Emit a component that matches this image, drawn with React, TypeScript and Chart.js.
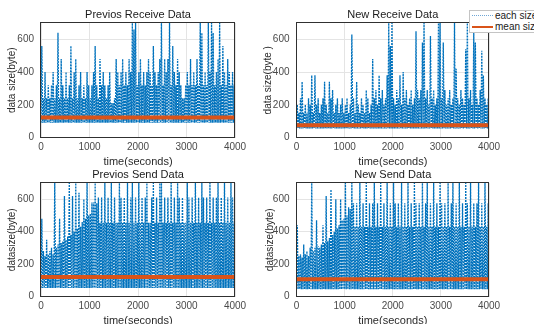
import React, { useEffect, useRef } from 'react';
import { Chart, registerables } from 'chart.js';

Chart.register(...registerables);

// ---------- data ----------
const TITLES = ['Previos Receive Data', 'New Receive Data', 'Previos Send Data', 'New Send Data'];
const Y_TITLES = ['data size(byte)', 'data size(byte )', 'datasize(byte)', 'datasize(byte)'];
const X_TITLE = 'time(seconds)';
const LEGEND_LABELS = ['each size', 'mean size'];

const X_TICKS = [0, 1000, 2000, 3000, 4000];
const Y_TICKS = [0, 200, 400, 600];
const X_MAX = 4000;
const Y_MAX = 700;

const MEANS = [122, 75, 120, 106];
const TROUGHS = [90, 55, 52, 45];

const prevReceivePeaks = [
  560, 240, 400, 240, 320, 240, 320, 400, 240, 320,
  640, 240, 480, 320, 240, 400, 240, 320, 560, 240,
  400, 480, 240, 320, 400, 240, 320, 240, 400, 320,
  240, 320, 400, 560, 320, 240, 480, 320, 400, 320,
  240, 320, 400, 210, 210, 240, 480, 400, 320, 400,
  480, 320, 400, 320, 480, 400, 700, 660, 700, 320,
  400, 480, 320, 400, 320, 400, 480, 400, 320, 560,
  400, 320, 400, 480, 700, 320, 480, 400, 480, 700,
  320, 560, 400, 320, 480, 400, 320, 240, 240, 320,
  400, 320, 480, 320, 400, 320, 480, 320, 700, 640,
  320, 400, 320, 700, 400, 700, 640, 320, 400, 480,
  700, 320, 560, 400, 320, 480, 400, 320, 400, 320,
];

const newReceivePeaks = [
  200, 150, 240, 340, 150, 200, 150, 240, 200, 380,
  150, 380, 200, 240, 150, 200, 240, 340, 200, 150,
  340, 240, 290, 150, 200, 240, 150, 200, 240, 150,
  200, 240, 150, 200, 630, 240, 150, 340, 200, 150,
  240, 200, 150, 290, 240, 150, 200, 480, 240, 290,
  200, 380, 240, 290, 200, 240, 380, 700, 560, 700,
  240, 200, 290, 240, 380, 200, 400, 240, 290, 200,
  240, 290, 200, 240, 650, 290, 240, 290, 580, 700,
  240, 290, 200, 620, 240, 290, 200, 240, 700, 700,
  240, 580, 290, 200, 240, 290, 200, 240, 700, 420,
  240, 200, 290, 240, 200, 540, 700, 240, 290, 200,
  650, 580, 240, 200, 290, 530, 380, 240, 200, 240,
];

const prevSendPeaks = [
  480, 280, 250, 350, 260, 280, 300, 260, 700, 300,
  320, 480, 330, 340, 620, 350, 370, 700, 380, 620,
  400, 700, 420, 640, 430, 460, 600, 480, 700, 500,
  510, 580, 580, 700, 575, 610, 455, 610, 455, 700,
  455, 610, 455, 700, 455, 610, 455, 455, 700, 610,
  455, 610, 455, 700, 455, 610, 700, 455, 610, 455,
  700, 455, 610, 455, 610, 700, 455, 455, 610, 700,
  455, 610, 455, 700, 700, 455, 610, 455, 610, 455,
  700, 455, 610, 455, 700, 610, 455, 610, 455, 455,
  700, 610, 455, 610, 455, 700, 455, 610, 455, 700,
  610, 455, 610, 455, 700, 455, 610, 455, 610, 700,
  455, 610, 455, 700, 455, 610, 455, 700, 610, 455,
];

const newSendPeaks = [
  440, 250, 260, 240, 320, 260, 280, 250, 300, 700,
  280, 300, 470, 310, 300, 320, 440, 330, 620, 340,
  360, 660, 380, 400, 600, 420, 440, 600, 470, 480,
  700, 500, 550, 540, 700, 575, 430, 575, 430, 700,
  430, 575, 430, 700, 430, 575, 430, 575, 700, 430,
  575, 430, 700, 430, 575, 430, 700, 430, 575, 430,
  700, 575, 430, 575, 430, 700, 430, 575, 430, 700,
  430, 575, 430, 700, 575, 430, 575, 430, 700, 430,
  575, 700, 430, 575, 430, 700, 430, 575, 430, 700,
  575, 430, 575, 430, 700, 430, 575, 700, 430, 575,
  430, 700, 430, 575, 430, 700, 575, 430, 700, 430,
  575, 430, 575, 700, 430, 575, 430, 700, 430, 575,
];

const PEAKS = [prevReceivePeaks, newReceivePeaks, prevSendPeaks, newSendPeaks];

// ---------- style / layout ----------
const FONT = '"Liberation Sans", Arial, sans-serif';
const BLUE = '#0072BD';
const ORANGE = '#D95319';

type Panel = {
  left: number; top: number; width: number; height: number;
  plotLeft: number; plotRight: number; plotTop: number; plotBottom: number;
  titleY: number; yTitleX: number; xTitleY: number;
};

const PANELS: Panel[] = [
  { left: 0, top: 0, width: 267, height: 170, plotLeft: 41, plotRight: 235, plotTop: 23, plotBottom: 137.5, titleY: 14.5, yTitleX: 12, xTitleY: 162 },
  { left: 256, top: 0, width: 278, height: 170, plotLeft: 296.5, plotRight: 489, plotTop: 23, plotBottom: 137.5, titleY: 14.5, yTitleX: 268, xTitleY: 162 },
  { left: 0, top: 160, width: 267, height: 175, plotLeft: 41, plotRight: 235, plotTop: 183, plotBottom: 296.5, titleY: 175, yTitleX: 12, xTitleY: 321 },
  { left: 256, top: 160, width: 278, height: 175, plotLeft: 296.5, plotRight: 489, plotTop: 183, plotBottom: 296.5, titleY: 175, yTitleX: 270, xTitleY: 321 },
];

function buildSeries(peaks: number[], trough: number) {
  const slot = X_MAX / peaks.length;
  const pts: { x: number; y: number }[] = [];
  peaks.forEach((p, i) => {
    pts.push({ x: i * slot, y: trough });
    pts.push({ x: i * slot + slot / 2, y: p });
  });
  pts.push({ x: X_MAX, y: trough });
  return pts;
}

const boxPlugin = {
  id: 'axesBox',
  afterDatasetsDraw(chart: any) {
    const { ctx, chartArea } = chart;
    const l = Math.round(chartArea.left) - 0.5;
    const t = Math.round(chartArea.top) - 0.5;
    const r = Math.round(chartArea.right) - 0.5;
    const b = Math.round(chartArea.bottom) - 0.5;
    ctx.save();
    ctx.strokeStyle = '#303030';
    ctx.lineWidth = 1;
    ctx.strokeRect(l, t, r - l, b - t);
    ctx.restore();
  },
};

function PanelChart({ idx }: { idx: number }) {
  const ref = useRef<HTMLCanvasElement>(null);
  const p = PANELS[idx];
  useEffect(() => {
    if (!ref.current) return;
    const titleLH = 11 * 1.2;
    const xTitleLH = 11 * 1.2;
    const yTitleLH = 10 * 1.2;
    const chart = new Chart(ref.current, {
      type: 'line',
      data: {
        datasets: [
          {
            label: LEGEND_LABELS[1],
            data: [{ x: 0, y: MEANS[idx] }, { x: X_MAX, y: MEANS[idx] }],
            borderColor: ORANGE,
            borderWidth: 4,
            pointRadius: 0,
            order: 0,
          },
          {
            label: LEGEND_LABELS[0],
            data: buildSeries(PEAKS[idx], TROUGHS[idx]),
            borderColor: BLUE,
            borderWidth: 1.3,
            borderDash: [2, 1],
            pointRadius: 0,
            tension: 0,
            order: 1,
          },
        ],
      },
      options: {
        animation: false,
        responsive: false,
        devicePixelRatio: 1,
        events: [],
        layout: {
          padding: { left: 0, top: 0, bottom: 0, right: p.left + p.width - p.plotRight },
        },
        plugins: {
          legend: { display: false },
          tooltip: { enabled: false },
          title: {
            display: true,
            text: TITLES[idx],
            fullSize: false,
            color: '#1a1a1a',
            font: { family: FONT, size: 11, weight: 'normal', lineHeight: 1.2 },
            padding: {
              top: p.titleY - p.top - titleLH / 2,
              bottom: p.plotTop - p.titleY - titleLH / 2,
            },
          },
        },
        scales: {
          x: {
            type: 'linear',
            min: 0,
            max: X_MAX,
            afterBuildTicks: (s: any) => { s.ticks = X_TICKS.map((v) => ({ value: v })); },
            afterFit: (s: any) => { s.height = p.top + p.height - p.plotBottom; },
            ticks: {
              color: '#4a4a4a',
              font: { family: FONT, size: 10 },
              padding: 4,
              maxRotation: 0,
              callback: (v: any) => String(v),
            },
            grid: { color: '#e4e4e4', drawTicks: false },
            border: { display: false },
            title: {
              display: true,
              text: X_TITLE,
              color: '#2a2a2a',
              font: { family: FONT, size: 11, lineHeight: 1.2 },
              padding: { top: 0, bottom: p.top + p.height - p.xTitleY - xTitleLH / 2 },
            },
          },
          y: {
            type: 'linear',
            min: 0,
            max: Y_MAX,
            afterBuildTicks: (s: any) => { s.ticks = Y_TICKS.map((v) => ({ value: v })); },
            afterFit: (s: any) => { s.width = p.plotLeft - p.left; },
            ticks: {
              color: '#4a4a4a',
              font: { family: FONT, size: 10 },
              padding: 7,
              callback: (v: any) => String(v),
            },
            grid: { color: '#e4e4e4', drawTicks: false },
            border: { display: false },
            title: {
              display: true,
              text: Y_TITLES[idx],
              color: '#2a2a2a',
              font: { family: FONT, size: 10, lineHeight: 1.2 },
              padding: { top: p.yTitleX - p.left - yTitleLH / 2, bottom: 0 },
            },
          },
        },
      },
      plugins: [boxPlugin],
    } as any);
    return () => chart.destroy();
  }, [idx]);
  return (
    <canvas
      ref={ref}
      width={p.width}
      height={p.height}
      style={{ position: 'absolute', left: p.left, top: p.top, width: p.width, height: p.height }}
    />
  );
}

function Legend() {
  const text: React.CSSProperties = {
    position: 'absolute', left: 25, fontFamily: FONT, fontSize: 10, color: '#1a1a1a',
    lineHeight: '12px', whiteSpace: 'nowrap',
  };
  return (
    <div
      style={{
        position: 'absolute', left: 469, top: 10, width: 80, height: 23,
        border: '1px solid #c4c4c4', background: '#ffffff', boxSizing: 'border-box',
      }}
    >
      <div style={{ position: 'absolute', left: 2, top: 4, width: 21, borderTop: '1px dotted #6fa6d6' }} />
      <div style={{ ...text, top: -1 }}>{LEGEND_LABELS[0]}</div>
      <div style={{ position: 'absolute', left: 2, top: 15, width: 21, height: 2, background: ORANGE }} />
      <div style={{ ...text, top: 10 }}>{LEGEND_LABELS[1]}</div>
    </div>
  );
}

export default function App() {
  return (
    <div
      style={{
        position: 'absolute', left: 0, top: 0, width: 534, height: 324,
        overflow: 'hidden', background: '#ffffff',
      }}
    >
      {PANELS.map((_, i) => <PanelChart key={i} idx={i} />)}
      <Legend />
    </div>
  );
}
